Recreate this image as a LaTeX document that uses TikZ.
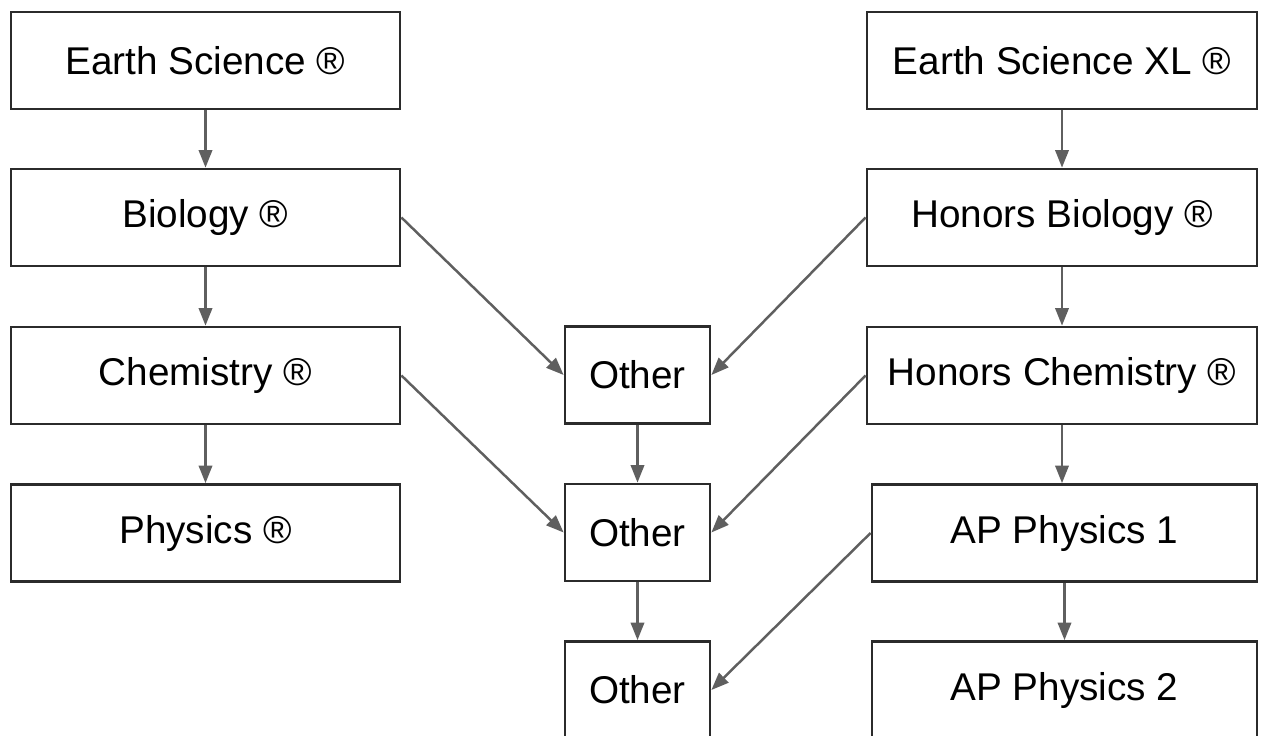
\documentclass[tikz,border=0pt]{standalone}
\usepackage{fontspec}
\setmainfont{Liberation Sans}
\usetikzlibrary{arrows.meta}
\definecolor{linegray}{HTML}{5F5F5F}
\definecolor{boxline}{HTML}{2B2B2B}

\begin{document}
\begin{tikzpicture}[x=0.01cm, y=-0.01cm,
	course/.style={draw=boxline, line width=0.75pt, fill=white, inner sep=0pt,
		minimum width=3.89cm, minimum height=0.97cm, font=\fontsize{11}{13}\selectfont},
	small/.style={course, minimum width=1.45cm},
	link/.style={draw=linegray, line width=0.7pt, -{Triangle[length=5pt,width=3.8pt]}}]
			% Frame
			\clip (0,0) rectangle (1263,736);
			\fill[white] (0,0) rectangle (1263,736);

			% Left column
			\node[course] (es) at (205.5,60.5) {Earth Science ®};
			\node[course] (bio) at (205.5,217.5) {Biology ®};
			\node[course] (chem) at (205.5,375.5) {Chemistry ®};
			\node[course] (phys) at (205.5,533) {Physics ®};

			% Middle column
			\node[small] (oth1) at (637.5,375) {Other};
			\node[small] (oth2) at (637.5,532.5) {Other};
			\node[small] (oth3) at (637.5,690) {Other};

			% Right column
			\node[course, minimum width=3.90cm] (esxl) at (1062,60.5) {Earth Science XL ®};
			\node[course, minimum width=3.90cm] (hbio) at (1062,217.5) {Honors Biology ®};
			\node[course, minimum width=3.90cm] (hchem) at (1062,375.5) {Honors Chemistry ®};
			\node[course, minimum width=3.85cm] (ap1) at (1064.5,533) {AP Physics 1};
			\node[course, minimum width=3.85cm] (ap2) at (1064.5,690) {AP Physics 2};

			% Vertical arrows
			\draw[link] (es) -- (bio);
			\draw[link] (bio) -- (chem);
			\draw[link] (chem) -- (phys);
			\draw[link] (oth1) -- (oth2);
			\draw[link] (oth2) -- (oth3);
			\draw[link] (esxl) -- (hbio);
			\draw[link] (hbio) -- (hchem);
			\draw[link] (hchem.south) -- (hchem.south |- ap1.north);
			\draw[link] (ap1) -- (ap2);

			% Diagonal arrows
			\draw[link] (bio.east) -- (oth1.west);
			\draw[link] (hbio.west) -- (oth1.east);
			\draw[link] (chem.east) -- (oth2.west);
			\draw[link] (hchem.west) -- (oth2.east);
			\draw[link] (ap1.west) -- (oth3.east);
		\end{tikzpicture}
\end{document}
